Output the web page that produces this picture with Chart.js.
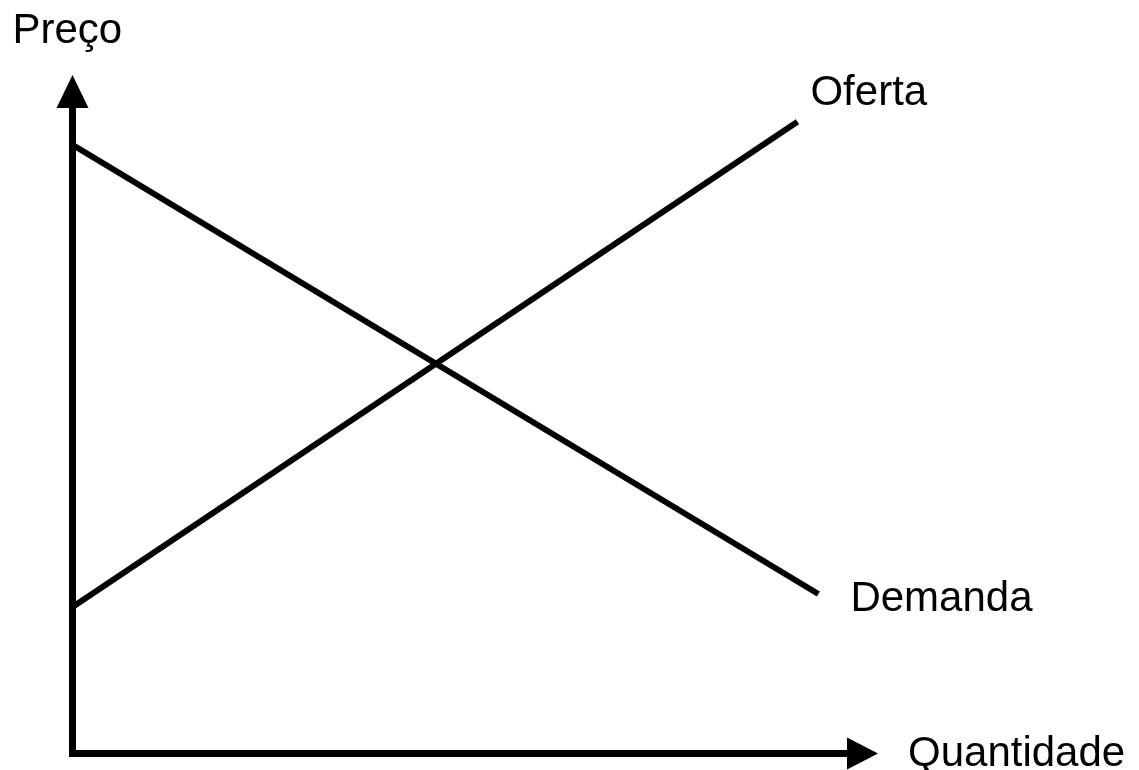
<!DOCTYPE html>
<html>
<head>
<meta charset="utf-8">
<script src="https://cdn.jsdelivr.net/npm/chart.js@4/dist/chart.umd.min.js"></script>
<style>
  html,body{margin:0;padding:0;background:#fff}
  #wrap{width:1139px;height:770px;position:relative}
</style>
</head>
<body>
<div id="wrap"><canvas id="ch"></canvas></div>
<script>
// ===================== DADOS =====================
const demandaX=[0,92.6];
const demandaY=[89.7,23.5];
const ofertaX=[0,90.0];
const ofertaY=[21.6,93.1];
const eixoMax=[100,100]; // [quantidade, preço]
const rotulos=['Preço','Quantidade','Oferta','Demanda'];

const FONTE='42px "Liberation Sans", Arial, sans-serif';

// desenha eixos com setas e os textos
const eixosPlugin={
  id:'eixos',
  afterDatasetsDraw(chart){
    const c=chart.ctx,sx=chart.scales.x,sy=chart.scales.y;
    const x0=sx.getPixelForValue(0),y0=sy.getPixelForValue(0);
    const xTop=sy.getPixelForValue(eixoMax[1]),xEnd=sx.getPixelForValue(eixoMax[0]);
    c.save();
    c.fillStyle='#000';c.strokeStyle='#000';c.lineWidth=7;c.lineCap='butt';
    // eixo Y
    c.beginPath();c.moveTo(x0,y0+3.5);c.lineTo(x0,xTop+32);c.stroke();
    c.beginPath();c.moveTo(x0,xTop);c.lineTo(x0-16,xTop+33);c.lineTo(x0+16,xTop+33);c.closePath();c.fill();
    // eixo X
    c.beginPath();c.moveTo(x0-3.5,y0);c.lineTo(xEnd-30,y0);c.stroke();
    c.beginPath();c.moveTo(xEnd,y0);c.lineTo(xEnd-31,y0-16);c.lineTo(xEnd-31,y0+16);c.closePath();c.fill();
    // textos
    c.font=FONTE;c.textBaseline='alphabetic';c.textAlign='left';
    c.fillText(rotulos[0],x0-60,xTop-32);
    c.fillText(rotulos[1],xEnd+30,y0+12);
    const oN=ofertaX.length-1,dN=demandaX.length-1;
    c.fillText(rotulos[2],sx.getPixelForValue(ofertaX[oN])+13,sy.getPixelForValue(ofertaY[oN])-17);
    c.fillText(rotulos[3],sx.getPixelForValue(demandaX[dN])+32,sy.getPixelForValue(demandaY[dN])+17);
    c.restore();
  }
};

const serie=(xs,ys)=>xs.map((x,i)=>({x,y:ys[i]}));

new Chart(document.getElementById('ch'),{
  type:'line',
  data:{datasets:[
    {label:'Demanda',data:serie(demandaX,demandaY),borderColor:'#000',borderWidth:6,pointRadius:0,borderCapStyle:'butt',tension:0},
    {label:'Oferta',data:serie(ofertaX,ofertaY),borderColor:'#000',borderWidth:6,pointRadius:0,borderCapStyle:'butt',tension:0}
  ]},
  options:{
    responsive:true,maintainAspectRatio:false,animation:false,
    layout:{padding:{left:72.5,right:261,top:75,bottom:16.5}},
    plugins:{legend:{display:false},tooltip:{enabled:false}},
    scales:{
      x:{type:'linear',min:0,max:eixoMax[0],display:false},
      y:{type:'linear',min:0,max:eixoMax[1],display:false}
    }
  },
  plugins:[eixosPlugin]
});
</script>
</body>
</html>
